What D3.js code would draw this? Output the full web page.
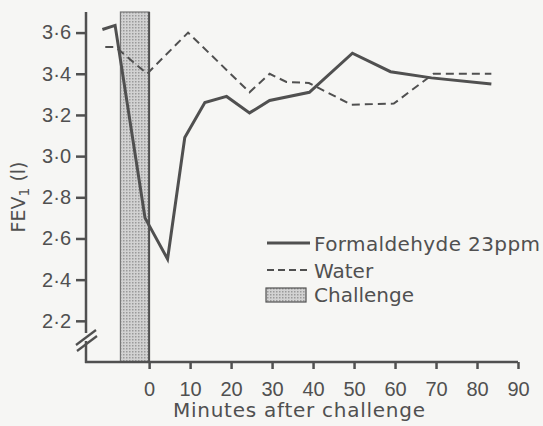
<!DOCTYPE html>
<html><head><meta charset="utf-8">
<script src="https://cdn.jsdelivr.net/npm/d3@7"></script>
<style>
html,body{margin:0;padding:0;background:#f6f6f4;}
svg{display:block;}
</style></head>
<body>
<svg id="chart" width="543" height="426"></svg>
<script>
// ---- data ----
const formTime = [-11.4, -8.3, -1, 4.5, 8.7, 13.6, 18.9, 24.5, 29.4, 39.1, 49.6, 58.9, 68.9, 83.5];
const formFev  = [3.615, 3.635, 2.70, 2.50, 3.09, 3.26, 3.29, 3.21, 3.27, 3.31, 3.50, 3.41, 3.38, 3.35];
const waterTime = [-10.7, -8.3, -7, -0.5, 9.5, 24.5, 29.4, 33.5, 39, 49.3, 59.7, 69.4, 83.5];
const waterFev  = [3.53, 3.53, 3.51, 3.40, 3.60, 3.31, 3.40, 3.36, 3.355, 3.25, 3.255, 3.40, 3.40];
const challenge = [-7, 0];
const xTicks = [0, 10, 20, 30, 40, 50, 60, 70, 80, 90];
const yTicks = [2.2, 2.4, 2.6, 2.8, 3.0, 3.2, 3.4, 3.6];
const legendLabels = ["Formaldehyde 23ppm", "Water", "Challenge"];

const ink = "#505050";
const svg = d3.select("#chart");
const x = d3.scaleLinear().domain([-15.4, 90]).range([86, 518]);
const y = d3.scaleLinear().domain([2.0, 3.7]).range([362, 12]);

// challenge shading
const defs = svg.append("defs");
const pat = defs.append("pattern").attr("id","dots").attr("width",3).attr("height",3).attr("patternUnits","userSpaceOnUse");
pat.append("rect").attr("width",3).attr("height",3).attr("fill","#d2d2d2");
pat.append("rect").attr("width",1.5).attr("height",1.5).attr("fill","#9a9a9a");

svg.append("rect")
  .attr("x", x(challenge[0])).attr("y", y(3.7))
  .attr("width", x(challenge[1]) - x(challenge[0]))
  .attr("height", y(2.0) - y(3.7))
  .attr("fill", "url(#dots)").attr("stroke", "#777").attr("stroke-width", 1.2);
svg.append("line").attr("x1", x(0)).attr("x2", x(0)).attr("y1", y(3.7)).attr("y2", y(2.0))
  .attr("stroke", ink).attr("stroke-width", 2);

// axes
const fmt = d => d.toFixed(1).replace(".", "\u00B7");
const yAxis = d3.axisLeft(y).tickValues(yTicks).tickFormat(fmt).tickSize(10).tickPadding(5);
const gy = svg.append("g").attr("transform", `translate(${x(-15.4)},0)`).call(yAxis);
gy.select(".domain").remove();
gy.selectAll(".tick line").attr("stroke", ink).attr("stroke-width", 2.5);
gy.selectAll(".tick text").attr("fill", ink).style("font-family", "Liberation Sans, Arial, sans-serif").style("font-size", "20px");

// y axis line with break
svg.append("line").attr("x1", 86).attr("x2", 86).attr("y1", y(3.7)).attr("y2", 333).attr("stroke", ink).attr("stroke-width", 2.5);
svg.append("line").attr("x1", 86).attr("x2", 86).attr("y1", 341).attr("y2", y(2.0) + 1).attr("stroke", ink).attr("stroke-width", 2.5);
svg.append("line").attr("x1", 76).attr("x2", 96).attr("y1", 345).attr("y2", 330).attr("stroke", ink).attr("stroke-width", 2.2);
svg.append("line").attr("x1", 77).attr("x2", 97).attr("y1", 351).attr("y2", 336).attr("stroke", ink).attr("stroke-width", 2.2);

const xAxis = d3.axisBottom(x).tickValues(xTicks).tickFormat(d3.format("d")).tickSize(7).tickPadding(13);
const gx = svg.append("g").attr("transform", `translate(0,${y(2.0)})`).call(xAxis);
gx.select(".domain").remove();
gx.selectAll(".tick line").attr("stroke", ink).attr("stroke-width", 2.5);
gx.selectAll(".tick text").attr("fill", ink).style("font-family", "Liberation Sans, Arial, sans-serif").style("font-size", "20px");
svg.append("line").attr("x1", 85).attr("x2", x(90)).attr("y1", y(2.0)).attr("y2", y(2.0)).attr("stroke", ink).attr("stroke-width", 2.5);

// series
const line = d3.line().x(d => x(d[0])).y(d => y(d[1]));
svg.append("path").datum(waterTime.map((t, i) => [t, waterFev[i]]))
  .attr("d", line).attr("fill", "none").attr("stroke", ink).attr("stroke-width", 2).attr("stroke-dasharray", "8,5");
svg.append("path").datum(formTime.map((t, i) => [t, formFev[i]]))
  .attr("d", line).attr("fill", "none").attr("stroke", ink).attr("stroke-width", 3).attr("stroke-linejoin", "miter");

// axis titles
const yl = svg.append("text").attr("transform", "translate(25,197) rotate(-90)")
  .attr("text-anchor", "middle").attr("fill", ink)
  .style("font-family", "DejaVu Sans, sans-serif").style("font-size", "19px");
yl.append("tspan").text("FEV");
yl.append("tspan").attr("dy", 4).style("font-size", "14px").text("1");
yl.append("tspan").attr("dy", -4).text(" (l)");

svg.append("text").attr("x", 173).attr("y", 417).attr("fill", ink)
  .attr("textLength", 252).attr("lengthAdjust", "spacing")
  .style("font-family", "DejaVu Sans, sans-serif").style("font-size", "20px")
  .text("Minutes after challenge");

// legend
const lg = svg.append("g").style("font-family", "DejaVu Sans, sans-serif").style("font-size", "20px").attr("fill", ink);
lg.append("line").attr("x1", 267).attr("x2", 310).attr("y1", 243).attr("y2", 243).attr("stroke", ink).attr("stroke-width", 3);
lg.append("line").attr("x1", 267).attr("x2", 310).attr("y1", 270).attr("y2", 270).attr("stroke", ink).attr("stroke-width", 2).attr("stroke-dasharray", "7,4");
lg.append("rect").attr("x", 266).attr("y", 288).attr("width", 40).attr("height", 14).attr("fill", "url(#dots)").attr("stroke", ink).attr("stroke-width", 1.2);
[251, 278, 302].forEach((yy, i) => {
  const t = lg.append("text").attr("x", 314).attr("y", yy).text(legendLabels[i]);
  if (i === 0) t.attr("textLength", 226).attr("lengthAdjust", "spacing");
});
</script>
</body></html>
